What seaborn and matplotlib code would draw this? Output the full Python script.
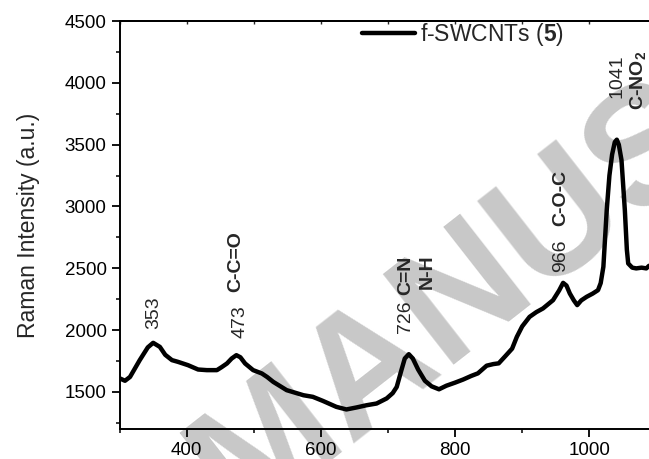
import matplotlib
matplotlib.use("Agg")
import matplotlib.pyplot as plt
import seaborn as sns
import pandas as pd
from matplotlib.ticker import MultipleLocator

# ---- data ----
wavenumber = [300, 308, 315.5, 330, 342, 350, 360, 368, 378, 387, 402, 417, 430, 445,
              452, 460, 467, 474, 480, 487, 499, 512, 520, 529, 549, 574, 588, 603,
              623, 638, 653, 668, 683, 698, 707, 713, 720, 725, 731, 737, 745, 755,
              765, 776, 787, 800, 812, 824, 834, 847, 857, 865, 875, 885, 892, 900,
              911, 921, 931, 946, 955, 961, 966, 971, 977, 982, 988, 996, 1005, 1013,
              1017, 1021, 1026, 1030, 1034, 1038, 1041, 1044, 1048, 1053, 1056, 1058,
              1064, 1070, 1078, 1085, 1089]
intensity = [1610, 1590, 1621, 1757, 1860, 1897, 1864, 1800, 1757, 1743, 1716, 1681,
             1676, 1676, 1700, 1730, 1770, 1797, 1780, 1730, 1676, 1649, 1620, 1581,
             1514, 1473, 1460, 1427, 1379, 1358, 1374, 1392, 1406, 1447, 1490, 1540,
             1676, 1770, 1805, 1770, 1680, 1590, 1545, 1521, 1550, 1575, 1600, 1629,
             1650, 1712, 1725, 1731, 1790, 1850, 1945, 2030, 2107, 2145, 2175, 2242,
             2320, 2382, 2360, 2296, 2240, 2202, 2240, 2269, 2295, 2323, 2380, 2512,
             2970, 3250, 3420, 3520, 3540, 3500, 3375, 2970, 2650, 2539, 2505, 2499,
             2505, 2499, 2520]
series_label = "f-SWCNTs ($\\mathbf{5}$)"

peak_labels = ["353", "473", "726", "966", "1041"]
peak_label_pos = [(351, 2143), (479.5, 2070), (726, 2110), (957.7, 2600), (1041.7, 4056)]
group_labels = ["C-C=O", "C=N", "N-H", "C-O-C", "C-NO$_\\mathbf{2}$"]
group_label_pos = [(473, 2556), (726, 2444), (759, 2470), (957, 3072), (1073.7, 4022)]

x_ticks = [400, 600, 800, 1000]
y_ticks = [1500, 2000, 2500, 3000, 3500, 4000, 4500]

df = pd.DataFrame({"Raman Shift": wavenumber, "Intensity": intensity})

sns.set_theme(style="ticks")
plt.rcParams["font.family"] = ["Liberation Sans", "DejaVu Sans"]
plt.rcParams["mathtext.fontset"] = "custom"
plt.rcParams["mathtext.rm"] = "Liberation Sans"
plt.rcParams["mathtext.bf"] = "Liberation Sans:bold"

fig = plt.figure(figsize=(6.49, 4.59), dpi=100)
ax = fig.add_axes([0.1843, 0.0654, 0.8157, 0.8888])
ax.set_facecolor("none")

# watermark
ax.text(0.37, -0.14, "MANUSCRIPT", transform=fig.transFigure, rotation=38,
        rotation_mode="anchor", ha="left", va="baseline", fontsize=120,
        fontweight="bold", color="#c8c8c8", zorder=0, clip_on=False)

sns.lineplot(data=df, x="Raman Shift", y="Intensity", ax=ax, color="black",
             linewidth=3.2, label=series_label, sort=False, zorder=3)

ax.set_xlim(300, 1089)
ax.set_ylim(1200, 4500)
ax.set_xticks(x_ticks)
ax.set_yticks(y_ticks)
ax.xaxis.set_minor_locator(MultipleLocator(100))
ax.yaxis.set_minor_locator(MultipleLocator(250))
ax.tick_params(which="major", direction="out", length=5.8, width=1.3,
               labelsize=13.5, pad=3.6, colors="black")
ax.tick_params(which="minor", direction="out", length=3.0, width=1.3)
for s in ["left", "bottom", "top"]:
    ax.spines[s].set_linewidth(1.4)
    ax.spines[s].set_color("black")
ax.spines["right"].set_visible(False)

top = ax.secondary_xaxis("top")
top.set_xticks(x_ticks)
top.xaxis.set_minor_locator(MultipleLocator(100))
top.tick_params(which="both", direction="in", length=2.5, width=1.0, labeltop=False)
top.spines["top"].set_linewidth(1.4)

ax.set_xlabel("")
ax.set_ylabel("Raman Intensity (a.u.)", fontsize=16.5, labelpad=18)

for t, (x, y) in zip(peak_labels, peak_label_pos):
    ax.text(x, y, t, rotation=90, ha="center", va="center", fontsize=14, zorder=4)
for t, (x, y) in zip(group_labels, group_label_pos):
    ax.text(x, y, t, rotation=90, ha="center", va="center", fontsize=14,
            fontweight="bold", zorder=4)

leg = ax.legend(loc="center left", bbox_to_anchor=(0.458, 0.966), frameon=False,
                fontsize=16.5, handlelength=2.31, handletextpad=0.22,
                borderaxespad=0, borderpad=0)

fig.savefig("out.png", dpi=100)
